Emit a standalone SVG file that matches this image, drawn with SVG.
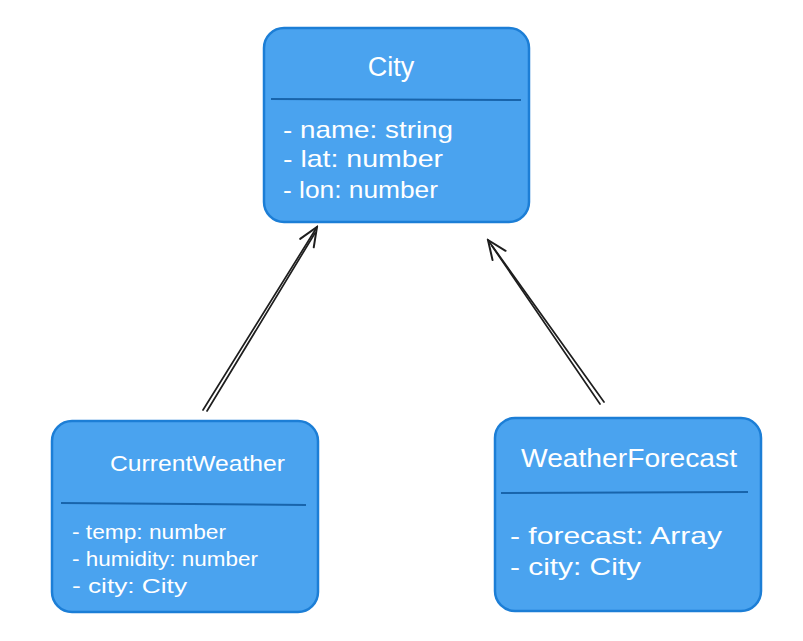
<svg xmlns="http://www.w3.org/2000/svg" width="803" height="641" viewBox="0 0 803 641">
  <defs>
    <style>
      .box { fill: #4aa3ef; stroke: #1c7ed6; stroke-width: 2.5; }
      .div { stroke: #1864ab; stroke-width: 2; fill: none; }
      .t { fill: #ffffff; font-family: "Liberation Sans", "Noto Sans", sans-serif; }
      .title { font-size: 25px; }
      .attr { font-size: 24px; }
      .sm { font-size: 21px; }
      .conn { stroke: #1e1e1e; stroke-width: 1.7; fill: none; stroke-linecap: round; }
    </style>
    <marker id="open" viewBox="0 0 24 24" refX="22" refY="12" markerWidth="24" markerHeight="24" markerUnits="userSpaceOnUse" orient="auto">
      <path d="M3,4 L22,12 L3,20" fill="none" stroke="#1e1e1e" stroke-width="2" stroke-linecap="round"/>
    </marker>
  </defs>
  <rect width="803" height="641" fill="#ffffff"/>

  <g id="connectors">
    <line class="conn" x1="203" y1="410" x2="317" y2="227" marker-end="url(#open)"/>
    <line class="conn" x1="207" y1="411" x2="315" y2="233"/>
    <line class="conn" x1="604" y1="402" x2="488" y2="240" marker-end="url(#open)"/>
    <line class="conn" x1="600" y1="404" x2="492" y2="246"/>
  </g>

  <g id="city">
    <rect class="box" x="264" y="28" width="265" height="194" rx="20"/>
    <line class="div" x1="271" y1="99" x2="521" y2="100"/>
    <text class="t title" x="391" y="76" text-anchor="middle" style="font-size:27px">City</text>
    <text class="t attr" x="283" y="138" textLength="170" lengthAdjust="spacingAndGlyphs">- name: string</text>
    <text class="t attr" x="283" y="167" textLength="160" lengthAdjust="spacingAndGlyphs">- lat: number</text>
    <text class="t attr" x="283" y="198" textLength="155" lengthAdjust="spacingAndGlyphs">- lon: number</text>
  </g>

  <g id="currentweather">
    <rect class="box" x="52" y="421" width="266" height="191" rx="20"/>
    <line class="div" x1="61" y1="503" x2="306" y2="505"/>
    <text class="t sm" x="110" y="471" textLength="175" lengthAdjust="spacingAndGlyphs" style="font-size:22px">CurrentWeather</text>
    <text class="t sm" x="72" y="539" textLength="154" lengthAdjust="spacingAndGlyphs">- temp: number</text>
    <text class="t sm" x="72" y="566" textLength="186" lengthAdjust="spacingAndGlyphs">- humidity: number</text>
    <text class="t sm" x="72" y="593" textLength="115" lengthAdjust="spacingAndGlyphs">- city: City</text>
  </g>

  <g id="weatherforecast">
    <rect class="box" x="495" y="418" width="266" height="193" rx="20"/>
    <line class="div" x1="501" y1="493" x2="748" y2="492"/>
    <text class="t title" x="521" y="467" textLength="216" lengthAdjust="spacingAndGlyphs">WeatherForecast</text>
    <text class="t attr" x="510" y="544" textLength="212" lengthAdjust="spacingAndGlyphs">- forecast: Array</text>
    <text class="t attr" x="510" y="575" textLength="131" lengthAdjust="spacingAndGlyphs">- city: City</text>
  </g>
</svg>
